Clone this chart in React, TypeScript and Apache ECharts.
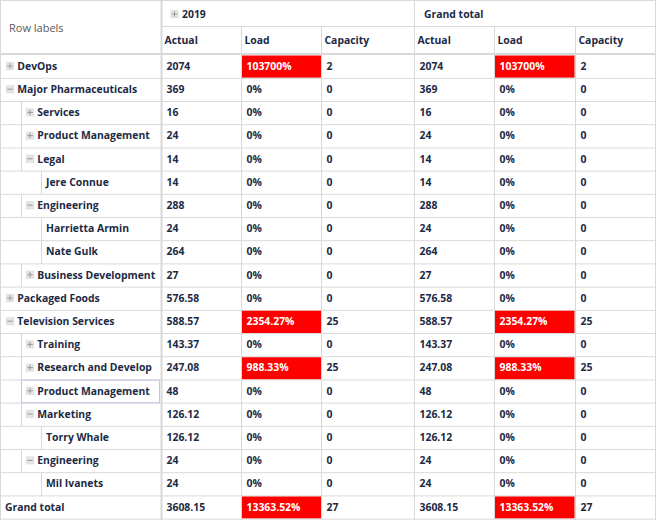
import React, { useEffect, useRef } from "react";
import * as echarts from "echarts";

// ---------- data ----------
const yearLabel = "2019";
const totalLabel = "Grand total";
const rowHeaderLabel = "Row labels";
const measureLabels = ["Actual", "Load", "Capacity"];

const rowLabels = [
  "DevOps",
  "Major Pharmaceuticals",
  "Services",
  "Product Management",
  "Legal",
  "Jere Connue",
  "Engineering",
  "Harrietta Armin",
  "Nate Gulk",
  "Business Development",
  "Packaged Foods",
  "Television Services",
  "Training",
  "Research and Development",
  "Product Management",
  "Marketing",
  "Torry Whale",
  "Engineering",
  "Mil Ivanets",
];
const rowLevels = [0, 0, 1, 1, 1, 2, 1, 2, 2, 1, 0, 0, 1, 1, 1, 1, 2, 1, 2];
const rowToggles = [
  "plus", "minus", "plus", "plus", "minus", "none", "minus", "none", "none", "plus",
  "plus", "minus", "plus", "plus", "plus", "minus", "none", "minus", "none",
];
const actualValues = [2074, 369, 16, 24, 14, 14, 288, 24, 264, 27, 576.58, 588.57, 143.37, 247.08, 48, 126.12, 126.12, 24, 24];
const loadValues = [103700, 0, 0, 0, 0, 0, 0, 0, 0, 0, 0, 2354.27, 0, 988.33, 0, 0, 0, 0, 0];
const capacityValues = [2, 0, 0, 0, 0, 0, 0, 0, 0, 0, 0, 25, 0, 25, 0, 0, 0, 0, 0];
const totalActual = 3608.15;
const totalLoad = 13363.52;
const totalCapacity = 27;
const loadAlertThreshold = 100;
const focusedRow = 14;

// ---------- layout ----------
const W = 656;
const H = 520;
const HEADER_ROW1 = 26.5;
const DATA_TOP = 55.1;
const ROW_H = 23.2;
const LABEL_EDGE = 161.5;
const colEdges = [161.5, 241.5, 321.5, 414.5, 494.5, 575.5, 655.5];
const GRID_COLOR = "#d9d9d9";
const TEXT_COLOR = "#1c2a45";
const BOLD = 'bold 10.4px "Open Sans"';
const NORMAL = '11px "Open Sans"';

function fmtPct(v: number) {
  return String(v) + "%";
}

export default function App() {
  const ref = useRef<HTMLDivElement>(null);
  useEffect(() => {
    if (!ref.current) return;
    const chart = echarts.init(ref.current, undefined, { renderer: "svg" });

    const line = (api: any, x1: number, y1: number, x2: number, y2: number, w = 1) => {
      const a = api.coord([x1, y1]);
      const b = api.coord([x2, y2]);
      return {
        type: "line",
        shape: { x1: a[0], y1: a[1], x2: b[0], y2: b[1] },
        style: { stroke: GRID_COLOR, lineWidth: w },
        silent: true,
      };
    };
    const text = (api: any, x: number, y: number, str: string, font = BOLD, fill = TEXT_COLOR, extra: any = {}) => {
      const p = api.coord([x, y]);
      return {
        type: "text",
        x: p[0],
        y: p[1],
        style: { text: str, font, fill, align: "left", verticalAlign: "middle", ...extra },
        silent: true,
      };
    };
    const toggle = (api: any, cx: number, cy: number, kind: string) => {
      const p = api.coord([cx, cy]);
      const s = 4.2;
      const kids: any[] = [
        {
          type: "rect",
          shape: { x: p[0] - s, y: p[1] - s, width: 2 * s, height: 2 * s },
          style: { fill: "#e4e4e4" },
        },
        {
          type: "line",
          shape: { x1: p[0] - 2.8, y1: p[1], x2: p[0] + 2.8, y2: p[1] },
          style: { stroke: "#9a9a9a", lineWidth: 1 },
        },
      ];
      if (kind === "plus") {
        kids.push({
          type: "line",
          shape: { x1: p[0], y1: p[1] - 2.8, x2: p[0], y2: p[1] + 2.8 },
          style: { stroke: "#9a9a9a", lineWidth: 1 },
        });
      }
      return { type: "group", children: kids, silent: true };
    };

    const renderHeader = (_params: any, api: any) => {
      const children: any[] = [];
      children.push(line(api, 0, 0.5, 655.5, 0.5));
      children.push(line(api, 0.5, 0, 0.5, H));
      children.push(line(api, LABEL_EDGE, HEADER_ROW1, 655.5, HEADER_ROW1));
      children.push(line(api, 0, 54, 655.5, 54, 2));
      children.push(line(api, LABEL_EDGE, 0, LABEL_EDGE, H, 2));
      colEdges.slice(1).forEach((x, k) => {
        const full = k === 2 || k === 5;
        children.push(line(api, x, full ? 0 : HEADER_ROW1, x, H));
      });
      children.push(text(api, 9, 27, rowHeaderLabel, NORMAL, "#5a5a5a"));
      children.push(toggle(api, 174.5, 14, "plus"));
      children.push(text(api, 182, 14, yearLabel));
      children.push(text(api, 424, 14, totalLabel));
      colEdges.slice(0, 6).forEach((x, k) => {
        children.push(text(api, x + 3, 39.5, measureLabels[k % 3]));
      });
      return { type: "group", children };
    };

    const renderRow = (_params: any, api: any) => {
      const i = api.value(0);
      const isTotal = i >= rowLabels.length;
      const top = DATA_TOP + i * ROW_H;
      const bottom = top + ROW_H;
      const mid = (top + bottom) / 2 - 1;
      const children: any[] = [];
      const actual = isTotal ? totalActual : actualValues[i];
      const load = isTotal ? totalLoad : loadValues[i];
      const cap = isTotal ? totalCapacity : capacityValues[i];
      const alert = load > loadAlertThreshold;

      if (alert) {
        [colEdges[1], colEdges[4]].forEach((x) => {
          const a = api.coord([x + 0.5, top + 0.5]);
          const b = api.coord([x + 80, bottom - 0.5]);
          children.push({
            type: "rect",
            shape: { x: a[0], y: a[1], width: b[0] - a[0], height: b[1] - a[1] },
            style: { fill: "#ff0000" },
            silent: true,
          });
        });
      }
      children.push(line(api, 0, bottom, 655.5, bottom));

      if (isTotal) {
        children.push(text(api, 5, mid, totalLabel));
      } else {
        const lvl = rowLevels[i];
        if (lvl === 1) children.push(line(api, 21.5, top, 21.5, bottom));
        if (lvl === 2) children.push(line(api, 41.5, top, 41.5, bottom));
        const iconX = 10 + lvl * 20;
        const hasToggle = rowToggles[i] !== "none";
        if (hasToggle) children.push(toggle(api, iconX, mid + 0.3, rowToggles[i]));
        const tx = hasToggle ? 17.3 + lvl * 20 : 6 + lvl * 20;
        children.push(
          text(api, tx, mid, rowLabels[i], BOLD, TEXT_COLOR, {
            width: LABEL_EDGE - tx - 1,
            overflow: "truncate",
            ellipsis: "",
          })
        );
        if (i === focusedRow) {
          const a = api.coord([21.5, top + 0.3]);
          const b = api.coord([159.5, bottom - 0.3]);
          children.push({
            type: "rect",
            shape: { x: a[0], y: a[1], width: b[0] - a[0], height: b[1] - a[1] },
            style: { fill: "none", stroke: "#c6c4e6", lineWidth: 1 },
            silent: true,
          });
        }
      }
      [0, 3].forEach((off) => {
        children.push(text(api, colEdges[off] + 5, mid, String(actual)));
        children.push(text(api, colEdges[off + 1] + 5, mid, fmtPct(load), BOLD, alert ? "#ffffff" : TEXT_COLOR));
        children.push(text(api, colEdges[off + 2] + 5, mid, String(cap)));
      });
      return { type: "group", children };
    };

    const rowData = rowLabels.map((_, i) => [i]);
    rowData.push([rowLabels.length]);

    chart.setOption({
      animation: false,
      backgroundColor: "#ffffff",
      grid: { left: 0, right: 0, top: 0, bottom: 0 },
      xAxis: { type: "value", min: 0, max: W, show: false },
      yAxis: { type: "value", min: 0, max: H, inverse: true, show: false },
      series: [
        {
          type: "custom",
          coordinateSystem: "cartesian2d",
          clip: false,
          data: rowData,
          renderItem: renderRow,
          z: 2,
        },
        {
          type: "custom",
          coordinateSystem: "cartesian2d",
          clip: false,
          data: [[0]],
          renderItem: renderHeader,
          z: 3,
        },
      ],
    });
    return () => chart.dispose();
  }, []);
  return (
    <div
      ref={ref}
      style={{ position: "fixed", left: 0, top: 0, width: W, height: H, background: "#fff" }}
    />
  );
}
